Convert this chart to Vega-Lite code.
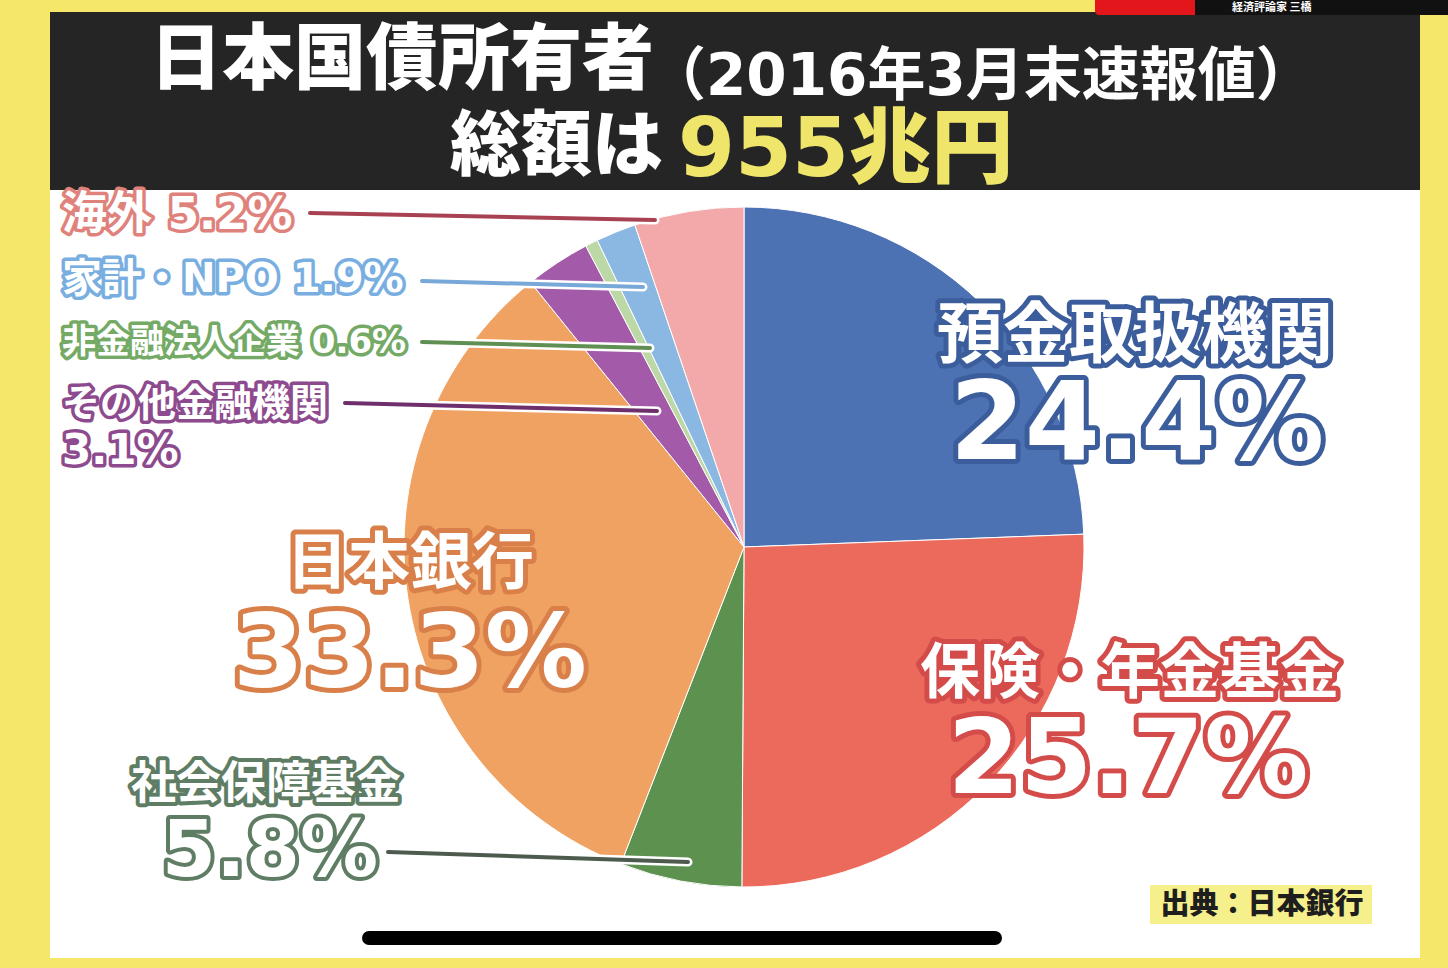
{
  "$schema": "https://vega.github.io/schema/vega-lite/v6.json",
  "width": 1448,
  "height": 968,
  "autosize": "none",
  "padding": 0,
  "background": "#f4e76a",
  "config": {
    "view": {"stroke": null},
    "text": {"font": "DejaVu Sans, Noto Sans CJK JP", "fontWeight": "bold", "strokeJoin": "round"}
  },
  "datasets": {
    "holders": [
      {"name": "預金取扱機関", "pct": 24.4, "order": 1},
      {"name": "保険・年金基金", "pct": 25.7, "order": 2},
      {"name": "社会保障基金", "pct": 5.8, "order": 3},
      {"name": "日本銀行", "pct": 33.3, "order": 4},
      {"name": "その他金融機関", "pct": 3.1, "order": 5},
      {"name": "非金融法人企業", "pct": 0.6, "order": 6},
      {"name": "家計・NPO", "pct": 1.9, "order": 7},
      {"name": "海外", "pct": 5.2, "order": 8}
    ]
  },
  "layer": [
    {
      "data": {"values": [{}]},
      "mark": {"type": "rect", "fill": "white"},
      "encoding": {"x": {"value": 50}, "x2": {"value": 1420}, "y": {"value": 12}, "y2": {"value": 958}}
    },
    {
      "data": {"values": [{}]},
      "mark": {"type": "rect", "fill": "#252525"},
      "encoding": {"x": {"value": 50}, "x2": {"value": 1420}, "y": {"value": 12}, "y2": {"value": 190}}
    },
    {
      "data": {"values": [{}]},
      "mark": {"type": "rect", "fill": "#e3161c", "cornerRadius": 4},
      "encoding": {"x": {"value": 1095}, "x2": {"value": 1200}, "y": {"value": -6}, "y2": {"value": 15}}
    },
    {
      "data": {"values": [{}]},
      "mark": {"type": "rect", "fill": "#111111"},
      "encoding": {"x": {"value": 1195}, "x2": {"value": 1448}, "y": {"value": -6}, "y2": {"value": 15}}
    },
    {
      "data": {"values": [{"t": "経済評論家 三橋"}]},
      "mark": {"type": "text", "align": "left", "baseline": "middle", "fontSize": 11, "fill": "white", "font": "Noto Sans CJK JP"},
      "encoding": {"x": {"value": 1232}, "y": {"value": 8}, "text": {"field": "t"}}
    },
    {
      "data": {"values": [{"t": "日本国債所有者"}]},
      "mark": {"type": "text", "align": "left", "fontSize": 72, "fill": "white", "font": "Noto Sans CJK JP", "fontWeight": 900},
      "encoding": {"x": {"value": 150}, "y": {"value": 61}, "text": {"field": "t"}}
    },
    {
      "data": {"values": [{"t": "（2016年3月末速報値）"}]},
      "mark": {"type": "text", "align": "left", "fontSize": 58, "fill": "white"},
      "encoding": {"x": {"value": 648}, "y": {"value": 78}, "text": {"field": "t"}}
    },
    {
      "data": {"values": [{"t": "総額は"}]},
      "mark": {"type": "text", "align": "left", "fontSize": 71, "fill": "white", "font": "Noto Sans CJK JP", "fontWeight": 900},
      "encoding": {"x": {"value": 450}, "y": {"value": 148}, "text": {"field": "t"}}
    },
    {
      "data": {"values": [{"t": "955兆円"}]},
      "mark": {"type": "text", "align": "left", "fontSize": 82, "fill": "#efe56a", "fontWeight": 900},
      "encoding": {"x": {"value": 678}, "y": {"value": 151}, "text": {"field": "t"}}
    },
    {
      "data": {"name": "holders"},
      "mark": {"type": "arc", "radius": 340, "stroke": "white", "strokeWidth": 1},
      "encoding": {
        "x": {"value": 744},
        "y": {"value": 547},
        "theta": {"field": "pct", "type": "quantitative", "stack": true},
        "order": {"field": "order", "type": "quantitative"},
        "color": {
          "field": "name",
          "type": "nominal",
          "scale": {
            "domain": ["預金取扱機関", "保険・年金基金", "社会保障基金", "日本銀行", "その他金融機関", "非金融法人企業", "家計・NPO", "海外"],
            "range": ["#4d72b4", "#ec6a5c", "#5d9150", "#f0a262", "#a35aa8", "#bcd8a6", "#8ab8e2", "#f3a9aa"]
          },
          "legend": null
        },
        "tooltip": [{"field": "name"}, {"field": "pct", "format": ".1f"}]
      }
    },
    {
      "data": {"values": [{"name": "海外"}]},
      "encoding": {"x": {"value": 310}, "x2": {"value": 655}, "y": {"value": 213}, "y2": {"value": 220}},
      "layer": [
        {"mark": {"type": "rule", "color": "white", "strokeWidth": 9, "strokeCap": "round"}},
        {"mark": {"type": "rule", "color": "#a84252", "strokeWidth": 4, "strokeCap": "round"}}
      ]
    },
    {
      "data": {"values": [{"name": "家計・NPO"}]},
      "encoding": {"x": {"value": 422}, "x2": {"value": 643}, "y": {"value": 281}, "y2": {"value": 287}},
      "layer": [
        {"mark": {"type": "rule", "color": "white", "strokeWidth": 9, "strokeCap": "round"}},
        {"mark": {"type": "rule", "color": "#78a8d8", "strokeWidth": 4, "strokeCap": "round"}}
      ]
    },
    {
      "data": {"values": [{"name": "非金融法人企業"}]},
      "encoding": {"x": {"value": 422}, "x2": {"value": 650}, "y": {"value": 342}, "y2": {"value": 348}},
      "layer": [
        {"mark": {"type": "rule", "color": "white", "strokeWidth": 9, "strokeCap": "round"}},
        {"mark": {"type": "rule", "color": "#5f8f52", "strokeWidth": 4, "strokeCap": "round"}}
      ]
    },
    {
      "data": {"values": [{"name": "その他金融機関"}]},
      "encoding": {"x": {"value": 345}, "x2": {"value": 657}, "y": {"value": 403}, "y2": {"value": 411}},
      "layer": [
        {"mark": {"type": "rule", "color": "white", "strokeWidth": 9, "strokeCap": "round"}},
        {"mark": {"type": "rule", "color": "#6e2f6c", "strokeWidth": 4, "strokeCap": "round"}}
      ]
    },
    {
      "data": {"values": [{"name": "社会保障基金"}]},
      "encoding": {"x": {"value": 388}, "x2": {"value": 688}, "y": {"value": 852}, "y2": {"value": 862}},
      "layer": [
        {"mark": {"type": "rule", "color": "white", "strokeWidth": 9, "strokeCap": "round"}},
        {"mark": {"type": "rule", "color": "#4d5a4e", "strokeWidth": 4, "strokeCap": "round"}}
      ]
    },
    {
      "data": {"values": [{"t": "預金取扱機関"}]},
      "encoding": {"x": {"value": 1135}, "y": {"value": 337}, "size": {"value": 66}, "stroke": {"value": "#3c5d9c"}, "text": {"field": "t"}},
      "layer": [
        {"mark": {"type": "text", "fill": "white", "strokeWidth": 10}},
        {"mark": {"type": "text", "fill": "white", "strokeWidth": 0}}
      ]
    },
    {
      "data": {"values": [{"t": "24.4%"}]},
      "encoding": {"x": {"value": 1137}, "y": {"value": 427}, "size": {"value": 108}, "stroke": {"value": "#3c5d9c"}, "text": {"field": "t"}},
      "layer": [
        {"mark": {"type": "text", "fill": "white", "strokeWidth": 10}},
        {"mark": {"type": "text", "fill": "white", "strokeWidth": 0}}
      ]
    },
    {
      "data": {"values": [{"t": "保険・年金基金"}]},
      "encoding": {"x": {"value": 1130}, "y": {"value": 675}, "size": {"value": 60}, "stroke": {"value": "#d44c4a"}, "text": {"field": "t"}},
      "layer": [
        {"mark": {"type": "text", "fill": "white", "strokeWidth": 10}},
        {"mark": {"type": "text", "fill": "white", "strokeWidth": 0}}
      ]
    },
    {
      "data": {"values": [{"t": "25.7%"}]},
      "encoding": {"x": {"value": 1128}, "y": {"value": 762}, "size": {"value": 104}, "stroke": {"value": "#d44c4a"}, "text": {"field": "t"}},
      "layer": [
        {"mark": {"type": "text", "fill": "white", "strokeWidth": 10}},
        {"mark": {"type": "text", "fill": "white", "strokeWidth": 0}}
      ]
    },
    {
      "data": {"values": [{"t": "日本銀行"}]},
      "encoding": {"x": {"value": 410}, "y": {"value": 565}, "size": {"value": 62}, "stroke": {"value": "#d9804a"}, "text": {"field": "t"}},
      "layer": [
        {"mark": {"type": "text", "fill": "white", "strokeWidth": 10}},
        {"mark": {"type": "text", "fill": "white", "strokeWidth": 0}}
      ]
    },
    {
      "data": {"values": [{"t": "33.3%"}]},
      "encoding": {"x": {"value": 410}, "y": {"value": 656}, "size": {"value": 102}, "stroke": {"value": "#d9804a"}, "text": {"field": "t"}},
      "layer": [
        {"mark": {"type": "text", "fill": "white", "strokeWidth": 10}},
        {"mark": {"type": "text", "fill": "white", "strokeWidth": 0}}
      ]
    },
    {
      "data": {"values": [{"t": "社会保障基金"}]},
      "encoding": {"x": {"value": 266}, "y": {"value": 785}, "size": {"value": 45}, "stroke": {"value": "#5f7d64"}, "text": {"field": "t"}},
      "layer": [
        {"mark": {"type": "text", "fill": "white", "strokeWidth": 8}},
        {"mark": {"type": "text", "fill": "white", "strokeWidth": 0}}
      ]
    },
    {
      "data": {"values": [{"t": "5.8%"}]},
      "encoding": {"x": {"value": 270}, "y": {"value": 853}, "size": {"value": 78}, "stroke": {"value": "#5f7d64"}, "text": {"field": "t"}},
      "layer": [
        {"mark": {"type": "text", "fill": "white", "strokeWidth": 8}},
        {"mark": {"type": "text", "fill": "white", "strokeWidth": 0}}
      ]
    },
    {
      "data": {"values": [{"t": "海外 5.2%"}]},
      "encoding": {"x": {"value": 62}, "y": {"value": 215}, "size": {"value": 45}, "stroke": {"value": "#e0827c"}, "text": {"field": "t"}},
      "layer": [
        {"mark": {"type": "text", "align": "left", "fill": "white", "strokeWidth": 7}},
        {"mark": {"type": "text", "align": "left", "fill": "white", "strokeWidth": 0}}
      ]
    },
    {
      "data": {"values": [{"t": "家計・NPO 1.9%"}]},
      "encoding": {"x": {"value": 62}, "y": {"value": 280}, "size": {"value": 40}, "stroke": {"value": "#78aee0"}, "text": {"field": "t"}},
      "layer": [
        {"mark": {"type": "text", "align": "left", "fill": "white", "strokeWidth": 7}},
        {"mark": {"type": "text", "align": "left", "fill": "white", "strokeWidth": 0}}
      ]
    },
    {
      "data": {"values": [{"t": "非金融法人企業 0.6%"}]},
      "encoding": {"x": {"value": 62}, "y": {"value": 343}, "size": {"value": 34}, "stroke": {"value": "#74aa66"}, "text": {"field": "t"}},
      "layer": [
        {"mark": {"type": "text", "align": "left", "fill": "white", "strokeWidth": 7}},
        {"mark": {"type": "text", "align": "left", "fill": "white", "strokeWidth": 0}}
      ]
    },
    {
      "data": {"values": [{"t": "その他金融機関"}]},
      "encoding": {"x": {"value": 62}, "y": {"value": 405}, "size": {"value": 38}, "stroke": {"value": "#8d4a8e"}, "text": {"field": "t"}},
      "layer": [
        {"mark": {"type": "text", "align": "left", "fill": "white", "strokeWidth": 7}},
        {"mark": {"type": "text", "align": "left", "fill": "white", "strokeWidth": 0}}
      ]
    },
    {
      "data": {"values": [{"t": "3.1%"}]},
      "encoding": {"x": {"value": 62}, "y": {"value": 451}, "size": {"value": 42}, "stroke": {"value": "#8d4a8e"}, "text": {"field": "t"}},
      "layer": [
        {"mark": {"type": "text", "align": "left", "fill": "white", "strokeWidth": 7}},
        {"mark": {"type": "text", "align": "left", "fill": "white", "strokeWidth": 0}}
      ]
    },
    {
      "data": {"values": [{}]},
      "mark": {"type": "rect", "fill": "#f5ef8c"},
      "encoding": {"x": {"value": 1150}, "x2": {"value": 1372}, "y": {"value": 885}, "y2": {"value": 924}}
    },
    {
      "data": {"values": [{"t": "出典：日本銀行"}]},
      "mark": {"type": "text", "fontSize": 29, "fill": "#1e1e1e", "font": "Noto Sans CJK JP", "fontWeight": 900},
      "encoding": {"x": {"value": 1262}, "y": {"value": 905}, "text": {"field": "t"}}
    },
    {
      "data": {"values": [{}]},
      "mark": {"type": "rule", "color": "black", "strokeWidth": 14, "strokeCap": "round"},
      "encoding": {"x": {"value": 369}, "x2": {"value": 995}, "y": {"value": 938}}
    }
  ]
}
